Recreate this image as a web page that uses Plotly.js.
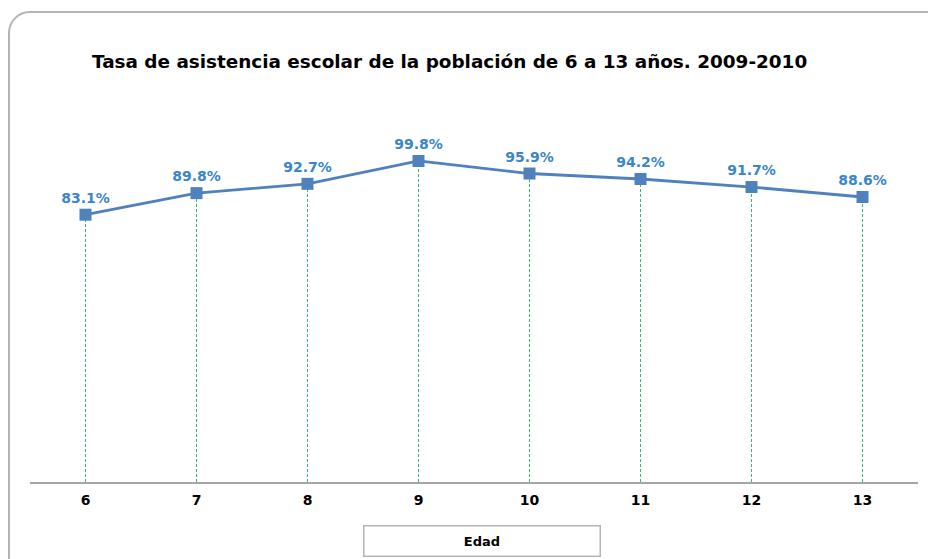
<!DOCTYPE html>
<html>
<head>
<meta charset="utf-8">
<script src="https://cdn.plot.ly/plotly-3.0.1.min.js"></script>
<style>
  html, body { margin:0; padding:0; background:#fff; overflow:hidden; }
  #wrap { position:relative; width:928px; height:559px; overflow:hidden; }
  #frame { position:absolute; left:8px; top:11px; width:960px; height:600px;
           border:2px solid #b4b4b4; border-radius:22px; box-sizing:border-box; }
  #chart { position:absolute; left:0; top:0; width:928px; height:559px; }
</style>
</head>
<body>
<div id="wrap">
  <div id="frame"></div>
  <div id="chart"></div>
</div>
<script>
const edades = ['6', '7', '8', '9', '10', '11', '12', '13'];
const tasas = [83.1, 89.8, 92.7, 99.8, 95.9, 94.2, 91.7, 88.6];
const etiquetas = tasas.map(v => v.toFixed(1) + '%');
const titulo = 'Tasa de asistencia escolar de la población de 6 a 13 años. 2009-2010';
const ejeX = 'Edad';

// drop lines from each point down to the axis
const dropX = [], dropY = [];
edades.forEach((e, i) => { dropX.push(e, e, null); dropY.push(0, tasas[i], null); });

const traces = [
  {
    x: dropX, y: dropY, type: 'scatter', mode: 'lines',
    line: { color: '#35b872', width: 1, dash: '3px,2px' },
    hoverinfo: 'skip', showlegend: false, connectgaps: false
  },
  {
    x: edades, y: tasas, type: 'scatter', mode: 'lines+markers+text',
    line: { color: '#4f81bd', width: 2.8 },
    marker: { symbol: 'square', size: 12, color: '#4f81bd' },
    text: etiquetas, textposition: 'top center',
    textfont: { family: 'DejaVu Sans', size: 14, color: '#3a86c8', weight: 'bold' },
    cliponaxis: false, showlegend: false
  }
];

const layout = {
  width: 928, height: 559,
  margin: { l: 30, r: 10, t: 96, b: 77 },
  paper_bgcolor: 'rgba(0,0,0,0)', plot_bgcolor: 'rgba(0,0,0,0)',
  title: {
    text: titulo,
    font: { family: 'DejaVu Sans', size: 18.4, color: '#000', weight: 'bold' },
    xref: 'container', yref: 'container', x: 92/928, xanchor: 'left',
    y: 1 - 62/559, yanchor: 'middle'
  },
  xaxis: {
    type: 'category', range: [-0.5, 7.5],
    showgrid: false, zeroline: false,
    showline: true, linecolor: '#a6a6a6', linewidth: 1.5,
    ticks: '', tickfont: { family: 'DejaVu Sans', size: 14, color: '#000', weight: 'bold' },
    ticklabelstandoff: 5
  },
  yaxis: {
    range: [0, 120], visible: false, showgrid: false, zeroline: false
  },
  annotations: [{
    text: ejeX, xref: 'paper', yref: 'paper',
    x: (481.5 - 30) / 888, y: (482 - 540.5) / 386,
    xanchor: 'center', yanchor: 'middle', showarrow: false,
    width: 233, height: 27, borderpad: 1,
    bordercolor: '#b4b4b4', borderwidth: 1.5, bgcolor: '#fff',
    font: { family: 'DejaVu Sans', size: 13, color: '#000', weight: 'bold' }
  }]
};

Plotly.newPlot('chart', traces, layout, { displayModeBar: false, staticPlot: true });
</script>
</body>
</html>
